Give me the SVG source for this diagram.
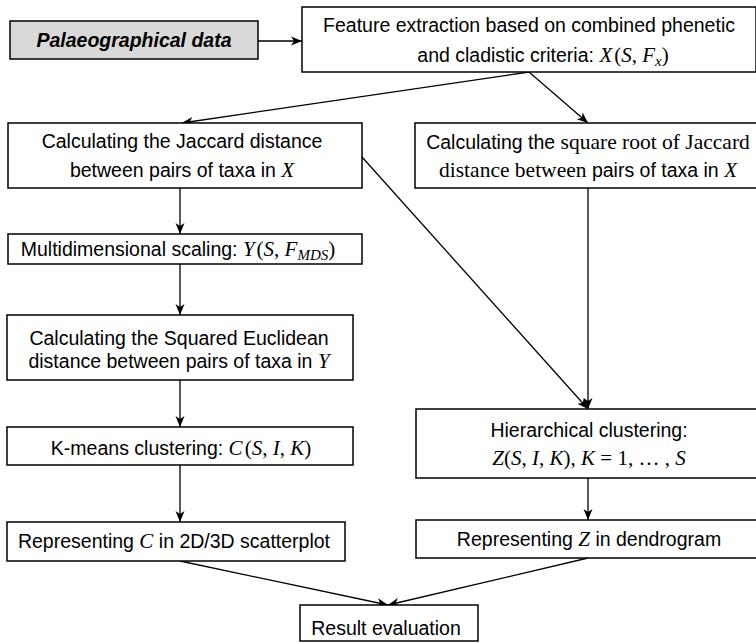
<svg xmlns="http://www.w3.org/2000/svg" width="756" height="643" viewBox="0 0 756 643">
<style>
.box{fill:#fff;stroke:#000;stroke-width:1.5}
.gray{fill:#d9d9d9;stroke:#000;stroke-width:1.5}
.t{font-family:"Liberation Sans",Arial,sans-serif;font-size:19.5px;fill:#000;text-anchor:middle}
.m{font-family:"Liberation Serif","Times New Roman",serif;font-style:italic;font-size:21px}
.p{font-family:"Liberation Serif","Times New Roman",serif;font-style:normal;font-size:21px}
.s{font-family:"Liberation Serif","Times New Roman",serif;font-size:21.5px}
.sub{font-family:"Liberation Serif","Times New Roman",serif;font-style:italic;font-size:15px}
.c{fill:none;stroke:#000;stroke-width:1.3}
</style>
<defs>
<marker id="ah" markerWidth="12" markerHeight="10" refX="11" refY="5" orient="auto" markerUnits="userSpaceOnUse">
<path d="M0,0.5 L11,5 L0,9.5 L3,5 z" fill="#000"/>
</marker>
</defs>
<g id="connectors">
<line class="c" x1="258" y1="41" x2="302" y2="41" marker-end="url(#ah)"/>
<line class="c" x1="529" y1="72" x2="182" y2="123" marker-end="url(#ah)"/>
<line class="c" x1="529" y1="72" x2="588" y2="123" marker-end="url(#ah)"/>
<line class="c" x1="180" y1="188" x2="180" y2="234" marker-end="url(#ah)"/>
<line class="c" x1="362" y1="157" x2="588" y2="409" marker-end="url(#ah)"/>
<line class="c" x1="588" y1="188" x2="588" y2="409" marker-end="url(#ah)"/>
<line class="c" x1="180" y1="264" x2="180" y2="315" marker-end="url(#ah)"/>
<line class="c" x1="180" y1="380" x2="180" y2="427" marker-end="url(#ah)"/>
<line class="c" x1="180" y1="465" x2="180" y2="522" marker-end="url(#ah)"/>
<line class="c" x1="588" y1="478" x2="588" y2="520" marker-end="url(#ah)"/>
<line class="c" x1="180" y1="561" x2="388" y2="605" marker-end="url(#ah)"/>
<line class="c" x1="588" y1="558" x2="388" y2="605" marker-end="url(#ah)"/>
</g>
<g id="palaeo">
<rect class="gray" x="10" y="21" width="248" height="38"/>
<text class="t" x="134" y="47" font-weight="bold" font-style="italic" font-size="19px">Palaeographical data</text>
</g>
<g id="feature">
<rect class="box" x="302" y="7" width="454" height="65"/>
<text class="t" x="529" y="32">Feature extraction based on combined phenetic</text>
<text class="t" x="543" y="62">and cladistic criteria: <tspan class="m">X</tspan><tspan class="p" dx="2">(</tspan><tspan class="m">S</tspan><tspan class="p">, </tspan><tspan class="m">F</tspan><tspan class="sub" dy="4">x</tspan><tspan class="p" dy="-4">)</tspan></text>
</g>
<g id="jaccard">
<rect class="box" x="8" y="123" width="354" height="65"/>
<text class="t" x="182" y="148">Calculating the Jaccard distance</text>
<text class="t" x="182" y="177">between pairs of taxa in <tspan class="m">X</tspan></text>
</g>
<g id="sqrtjaccard">
<rect class="box" x="415" y="123" width="346" height="65"/>
<text class="t" x="588" y="149">Calculating the <tspan class="s">square root of Jaccard</tspan></text>
<text class="t" x="588" y="177"><tspan class="s">distance between</tspan> pairs of taxa in <tspan class="m">X</tspan></text>
</g>
<g id="mds">
<rect class="box" x="8" y="234" width="354" height="30"/>
<text class="t" x="178" y="256">Multidimensional scaling: <tspan class="m">Y</tspan><tspan class="p" dx="2">(</tspan><tspan class="m">S</tspan><tspan class="p">, </tspan><tspan class="m">F</tspan><tspan class="sub" dy="4">MDS</tspan><tspan class="p" dy="-4">)</tspan></text>
</g>
<g id="sqeuclid">
<rect class="box" x="7" y="315" width="346" height="65"/>
<text class="t" x="179" y="345">Calculating the Squared Euclidean</text>
<text class="t" x="179" y="368">distance between pairs of taxa in <tspan class="m">Y</tspan></text>
</g>
<g id="kmeans">
<rect class="box" x="7" y="427" width="346" height="38"/>
<text class="t" x="181" y="455">K-means clustering: <tspan class="m">C</tspan><tspan class="p" dx="2">(</tspan><tspan class="m">S</tspan><tspan class="p">, </tspan><tspan class="m">I</tspan><tspan class="p">, </tspan><tspan class="m">K</tspan><tspan class="p">)</tspan></text>
</g>
<g id="repc">
<rect class="box" x="7" y="522" width="338" height="39"/>
<text class="t" x="174" y="548">Representing <tspan class="m">C</tspan> in 2D/3D scatterplot</text>
</g>
<g id="hier">
<rect class="box" x="416" y="409" width="345" height="69"/>
<text class="t" x="589" y="437">Hierarchical clustering:</text>
<text class="t" x="589" y="465"><tspan class="m">Z</tspan><tspan class="p">(</tspan><tspan class="m">S</tspan><tspan class="p">, </tspan><tspan class="m">I</tspan><tspan class="p">, </tspan><tspan class="m">K</tspan><tspan class="p">), </tspan><tspan class="m">K</tspan><tspan class="p"> = 1, … , </tspan><tspan class="m">S</tspan></text>
</g>
<g id="repz">
<rect class="box" x="416" y="520" width="345" height="38"/>
<text class="t" x="589" y="546">Representing <tspan class="m">Z</tspan> in dendrogram</text>
</g>
<g id="result">
<rect class="box" x="300" y="605" width="178" height="36"/>
<text class="t" x="386" y="635">Result evaluation</text>
</g>
</svg>
